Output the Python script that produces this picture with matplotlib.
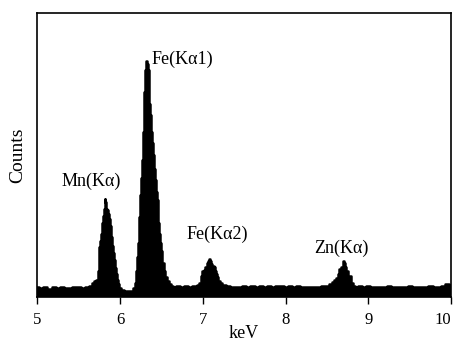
import matplotlib
matplotlib.use('Agg')
import matplotlib.pyplot as plt

plt.rcParams['font.family'] = ['Liberation Serif', 'DejaVu Serif']

# spectrum outline (keV, counts in arbitrary units)
kev = [5.00, 5.05, 5.10, 5.15, 5.20, 5.25, 5.30, 5.35, 5.40, 5.45, 5.50, 5.55, 5.60, 5.65,
       5.68, 5.70, 5.72, 5.74, 5.75, 5.77, 5.78, 5.79, 5.80, 5.81, 5.82, 5.83, 5.84, 5.85,
       5.86, 5.87, 5.88, 5.89, 5.90, 5.91, 5.92, 5.93, 5.94, 5.95, 5.96, 5.97, 5.98, 6.00,
       6.03, 6.06, 6.10, 6.14, 6.17, 6.19,
       6.20, 6.21, 6.22, 6.23, 6.24, 6.25, 6.26, 6.27, 6.28, 6.29, 6.30, 6.31, 6.32, 6.33,
       6.34, 6.35, 6.36, 6.37, 6.38, 6.39, 6.40, 6.41, 6.42, 6.43, 6.44, 6.45, 6.46, 6.47,
       6.48, 6.49, 6.50, 6.52, 6.54, 6.56, 6.58, 6.60, 6.63, 6.66, 6.70, 6.75, 6.80, 6.85,
       6.90, 6.95, 6.97,
       6.98, 7.00, 7.02, 7.04, 7.06, 7.07, 7.08, 7.09, 7.10, 7.12, 7.14, 7.15, 7.16, 7.18,
       7.20, 7.22, 7.25, 7.30, 7.35, 7.40, 7.45, 7.50, 7.55, 7.60, 7.65, 7.70, 7.75, 7.80,
       7.85, 7.90, 7.95, 8.00, 8.05, 8.10, 8.15, 8.20, 8.25, 8.30, 8.35, 8.40, 8.45, 8.50,
       8.55, 8.58,
       8.60, 8.62, 8.64, 8.66, 8.68, 8.70, 8.71, 8.72, 8.74, 8.76, 8.78, 8.80, 8.82, 8.85,
       8.90, 8.95, 9.00, 9.05, 9.10, 9.15, 9.20, 9.25, 9.30, 9.35, 9.40, 9.45, 9.50, 9.55,
       9.60, 9.65, 9.70, 9.75, 9.80, 9.85, 9.90, 9.95, 10.00]
counts = [3.5, 3.0, 3.3, 2.9, 3.4, 3.1, 3.6, 3.2, 3.0, 3.5, 3.3, 3.1, 3.6, 3.9,
          5.0, 5.5, 6.0, 9.0, 17.5, 19.5, 22.0, 26.0, 28.5, 31.0, 34.5, 33.5, 31.0, 30.5,
          29.0, 27.5, 27.0, 25.0, 21.0, 18.0, 15.5, 13.0, 12.5, 10.0, 8.0, 6.0, 4.5, 3.0,
          2.4, 2.2, 2.0, 2.2, 3.0, 5.0,
          9.0, 14.0, 19.0, 23.0, 28.0, 36.0, 42.0, 48.0, 58.0, 66.0, 72.0, 80.0, 83.0, 82.0,
          80.0, 72.0, 68.0, 64.0, 58.0, 54.0, 52.0, 50.0, 45.0, 41.0, 37.0, 34.0, 30.0, 26.0,
          22.0, 19.0, 16.0, 12.0, 9.0, 7.0, 5.5, 4.5, 4.0, 3.6, 3.8, 3.5, 3.8, 3.6,
          3.9, 4.2, 5.0,
          7.5, 9.0, 9.5, 10.5, 12.0, 12.5, 13.5, 12.5, 11.5, 11.0, 10.5, 9.0, 8.0, 7.0,
          5.5, 4.8, 4.2, 3.8, 3.5, 3.6, 3.3, 3.8, 3.4, 3.9, 3.5, 3.7, 3.4, 3.8,
          3.6, 4.0, 3.7, 3.5, 3.8, 3.4, 3.7, 3.5, 3.6, 3.3, 3.6, 3.5, 3.8, 4.0,
          4.5, 5.2,
          6.0, 6.8, 8.0, 9.8, 10.5, 12.5, 11.8, 10.5, 9.0, 7.5, 7.2, 5.0, 4.0, 3.5,
          3.8, 3.4, 3.7, 3.5, 3.3, 3.6, 3.4, 3.7, 3.5, 3.3, 3.6, 3.4, 3.7, 3.5,
          3.3, 3.6, 3.4, 3.7, 3.5, 3.6, 3.8, 4.5, 4.2]

peak_labels = ['Mn(K\u03b1)', 'Fe(K\u03b11)', 'Fe(K\u03b12)', 'Zn(K\u03b1)']
label_x = [5.65, 6.38, 7.17, 8.67]
label_y = [40.5, 83.5, 22.0, 17.0]
label_ha = ['center', 'left', 'center', 'center']

xticks = [5, 6, 7, 8, 9, 10]

fig = plt.figure(figsize=(4.53, 3.44), dpi=100)
ax = fig.add_axes([0.082, 0.137, 0.914, 0.826])

ax.fill_between(kev, 0, counts, step='mid', color='black', lw=0)
ax.step(kev, counts, where='mid', color='black', lw=1.8)

for t, x, y, ha in zip(peak_labels, label_x, label_y, label_ha):
    ax.text(x, y, t, ha=ha, va='center', fontsize=13)

ax.set_xlim(5, 10)
ax.set_ylim(0, 100)
ax.set_xticks(xticks)
ax.set_xticklabels([str(v) for v in xticks], fontsize=12)
ax.get_xticklabels()[-1].set_horizontalalignment('right')
ax.set_yticks([])
ax.tick_params(axis='x', direction='out', length=5, width=1, pad=6)
for s in ax.spines.values():
    s.set_linewidth(1.2)

ax.set_xlabel('keV', fontsize=13, labelpad=-2)
ax.set_ylabel('Counts', fontsize=14, labelpad=8)

fig.savefig('out.png', dpi=100)
